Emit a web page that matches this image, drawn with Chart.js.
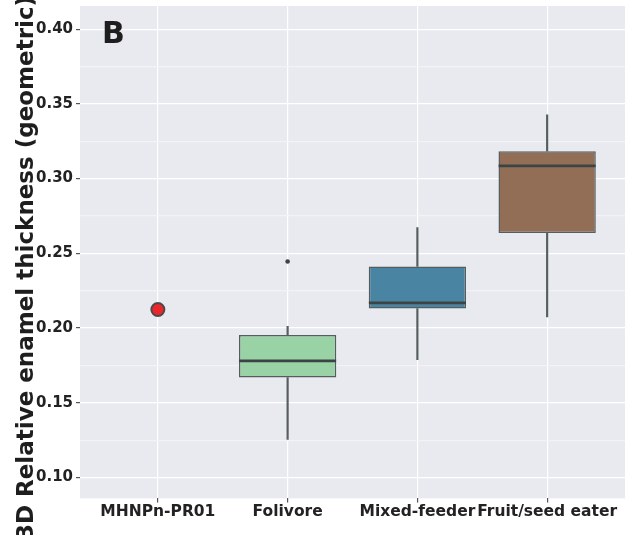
<!DOCTYPE html>
<html>
<head>
<meta charset="utf-8">
<style>
  html, body { margin: 0; padding: 0; background: #fff; }
  #wrap { width: 628px; height: 535px; position: relative; }
</style>
</head>
<body>
<div id="wrap"><canvas id="boxChart" width="628" height="535"></canvas></div>
<script src="https://cdn.jsdelivr.net/npm/chart.js"></script>
<script>
    // categories on the x axis (position = index)
    const categories = ['MHNPn-PR01', 'Folivore', 'Mixed-feeder', 'Fruit/seed eater'];

    // box statistics for the three diet groups (x = 1, 2, 3)
    const groupX   = [1, 2, 3];
    const whiskLo  = [0.1254, 0.1789, 0.2074];
    const q1       = [0.1669, 0.2130, 0.2636];
    const median   = [0.1780, 0.2168, 0.3085];
    const q3       = [0.1954, 0.2412, 0.3183];
    const whiskHi  = [0.2012, 0.2673, 0.3426];
    const boxColors = ['#98d2a5', '#4a84a3', '#936e57'];

    // single outlier of the Folivore group
    const outlierX = [1];
    const outlierY = [0.2445];

    // the specimen
    const specimenX = [0];
    const specimenY = [0.2124];

    const yTitle = '3D Relative enamel thickness (geometric)';
    const panelLabel = 'B';

    const FONT = '"DejaVu Sans", sans-serif';
    const lineGrey = '#565e5d';

    function isMajor(v) {
        return Math.abs(v * 20 - Math.round(v * 20)) < 1e-6;
    }

    // plot background + panel letter + rotated axis title
    const decor = {
        id: 'decor',
        beforeDraw(chart) {
            const {ctx, chartArea: a} = chart;
            ctx.save();
            ctx.fillStyle = '#e9eaf0';
            ctx.fillRect(a.left, a.top, a.right - a.left, a.bottom - a.top);
            ctx.restore();
        },
        afterDraw(chart) {
            const {ctx, chartArea: a} = chart;
            ctx.save();
            ctx.fillStyle = '#1e1e1e';
            ctx.font = 'bold 30px ' + FONT;
            ctx.textAlign = 'left';
            ctx.textBaseline = 'alphabetic';
            ctx.fillText(panelLabel, a.left + 22, 43);

            ctx.translate(33, 268);
            ctx.rotate(-Math.PI / 2);
            ctx.font = 'bold 23px ' + FONT;
            ctx.textAlign = 'center';
            ctx.fillText(yTitle, 0, 0);
            ctx.restore();
        }
    };

    const pts = (xs, ys) => xs.map((x, i) => ({x: x, y: ys[i]}));
    const range = (xs, lo, hi) => xs.map((x, i) => ({x: x, y: [lo[i], hi[i]]}));

    // labels sit away from the plot edges, so no extra edge padding is needed
    const noEdgePad = s => { s.paddingTop = 0; s.paddingBottom = 0; };

    new Chart(document.getElementById('boxChart'), {
        type: 'bar',
        data: {
            datasets: [
                {   // lower whiskers
                    data: range(groupX, whiskLo, q1),
                    backgroundColor: lineGrey,
                    barThickness: 1.5,
                    grouped: false,
                    order: 5
                },
                {   // upper whiskers
                    data: range(groupX, q3, whiskHi),
                    backgroundColor: lineGrey,
                    barThickness: 1.5,
                    grouped: false,
                    order: 5
                },
                {   // boxes
                    data: range(groupX, q1, q3),
                    backgroundColor: boxColors,
                    borderColor: lineGrey,
                    borderWidth: 1.5,
                    borderSkipped: false,
                    barPercentage: 0.75,
                    categoryPercentage: 1,
                    grouped: false,
                    order: 4
                },
                {   // medians
                    type: 'scatter',
                    data: pts(groupX, median),
                    pointStyle: 'line',
                    pointRadius: 48.5,
                    borderColor: '#3c4443',
                    borderWidth: 2.8,
                    order: 3
                },
                {   // outlier
                    type: 'scatter',
                    data: pts(outlierX, outlierY),
                    pointRadius: 2.3,
                    backgroundColor: '#3c4443',
                    borderWidth: 0,
                    order: 2
                },
                {   // specimen
                    type: 'scatter',
                    data: pts(specimenX, specimenY),
                    pointRadius: 6.5,
                    backgroundColor: '#e8262b',
                    borderColor: '#4a4a4a',
                    borderWidth: 2,
                    order: 1
                }
            ]
        },
        options: {
            responsive: false,
            animation: false,
            events: [],
            layout: { autoPadding: false, padding: { left: 33, top: 6, right: 3, bottom: 14 } },
            plugins: {
                legend: { display: false },
                tooltip: { enabled: false }
            },
            scales: {
                x: {
                    type: 'linear',
                    min: -0.6,
                    max: 3.6,
                    offset: false,
                    border: { display: false },
                    grid: {
                        offset: false,
                        color: '#ffffff',
                        lineWidth: 1.2,
                        tickColor: '#555',
                        tickLength: 4
                    },
                    ticks: {
                        stepSize: 1,
                        includeBounds: false,
                        autoSkip: false,
                        maxRotation: 0,
                        padding: 0,
                        color: '#222',
                        font: { family: FONT, size: 15.5, weight: 'bold' },
                        callback: v => Number.isInteger(v) ? categories[v] : ''
                    }
                },
                y: {
                    min: 0.086,
                    max: 0.4155,
                    border: { display: false },
                    afterFit: noEdgePad,
                    grid: {
                        color: c => isMajor(c.tick.value) ? '#ffffff' : '#f3f3f7',
                        lineWidth: 1.2,
                        tickColor: c => isMajor(c.tick.value) ? '#555' : 'rgba(0,0,0,0)',
                        tickLength: 4
                    },
                    ticks: {
                        stepSize: 0.025,
                        includeBounds: false,
                        autoSkip: false,
                        padding: 3,
                        color: '#222',
                        font: { family: FONT, size: 15, weight: 'bold' },
                        callback: v => isMajor(v) ? v.toFixed(2) : ''
                    }
                }
            }
        },
        plugins: [decor]
    });
</script>
</body>
</html>
